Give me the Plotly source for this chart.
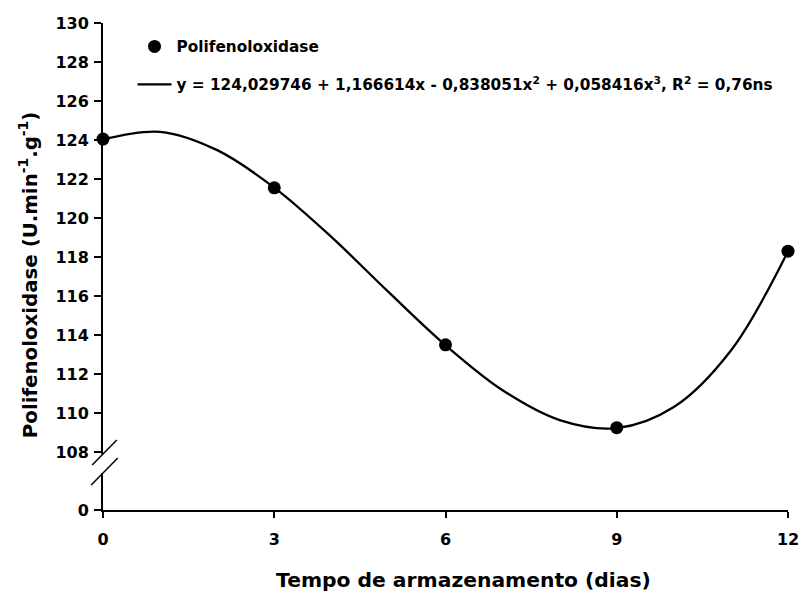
import plotly.graph_objects as go

# Observed data
dias = [0, 3, 6, 9, 12]
ppo = [124.05, 121.55, 113.5, 109.25, 118.3]

# Fitted cubic curve (integer days)
curva_x = [0, 1, 2, 3, 4, 5, 6, 7, 8, 9, 10, 11, 12]
curva_y = [124.03, 124.42, 123.48, 121.56, 119.03, 116.21, 113.48,
           111.17, 109.64, 109.23, 110.31, 113.21, 118.29]

x_ticks = [0, 3, 6, 9, 12]
y_ticks = [108, 110, 112, 114, 116, 118, 120, 122, 124, 126, 128, 130]
y_break_base = 105.03  # position used for the "0" tick below the axis break

FONT = "DejaVu Sans, Liberation Sans, Arial, sans-serif"

fig = go.Figure()
fig.add_trace(go.Scatter(
    x=dias, y=ppo, mode="markers", name="Polifenoloxidase",
    marker=dict(color="black", size=13), cliponaxis=False,
    legendgroup="a"))
fig.add_trace(go.Scatter(
    x=curva_x, y=curva_y, mode="lines", line_shape="spline",
    line=dict(color="black", width=2.3),
    name="y = 124,029746 + 1,166614x - 0,838051x<sup>2</sup> + 0,058416x<sup>3</sup>, R<sup>2</sup> = 0,76ns",
    legendgroup="b"))

W, H = 811, 591
L, R, T, B = 103, 12, 23, 81

pw, ph = W - L - R, H - T - B
def px(xp):
    return (xp - L) / pw
def py(yp):
    return (H - B - yp) / ph

fig.update_layout(
    width=W, height=H,
    margin=dict(l=L, r=R, t=T, b=B),
    paper_bgcolor="white", plot_bgcolor="white",
    font=dict(family=FONT, size=15, color="black", weight="bold"),
    showlegend=True,
    legend=dict(x=px(133), y=py(30), xanchor="left", yanchor="top",
                bgcolor="rgba(0,0,0,0)", traceorder="grouped",
                itemwidth=34,
                tracegroupgap=15, font=dict(size=15.3, weight="bold")),
    xaxis=dict(range=[0, 12], tickvals=x_ticks, ticks="outside", ticklen=6,
               tickwidth=2, tickcolor="black", showline=True, linewidth=2,
               linecolor="black", showgrid=False, zeroline=False,
               ticklabelstandoff=8,
               tickfont=dict(size=16, weight="bold")),
    yaxis=dict(range=[y_break_base, 130], tickvals=[y_break_base] + y_ticks,
               ticktext=["0"] + [str(v) for v in y_ticks],
               ticks="outside", ticklen=7, tickwidth=2, tickcolor="black",
               showline=True, linewidth=2, linecolor="black",
               showgrid=False, zeroline=False,
               ticklabelstandoff=2,
               tickfont=dict(size=16, weight="bold")),
    annotations=[
        dict(text="Tempo de armazenamento (dias)", xref="paper", yref="paper",
             x=px(469), y=py(580), xanchor="center", yanchor="middle",
             showarrow=False, font=dict(size=20.3, weight="bold")),
        dict(text="Polifenoloxidase (U.min<sup>-1</sup>.g<sup>-1</sup>)",
             xref="paper", yref="paper", x=px(27), y=py(275),
             xanchor="center", yanchor="middle", textangle=-90,
             showarrow=False, font=dict(size=19.8, weight="bold")),
    ],
)

# axis break: white gap over the y axis line and two slanted strokes
fig.add_shape(type="rect", xref="paper", yref="paper",
              x0=px(99), x1=px(107), y0=py(473), y1=py(454),
              fillcolor="white", line=dict(width=0), layer="above")
fig.add_shape(type="line", xref="paper", yref="paper",
              x0=px(92), y0=py(465), x1=px(117), y1=py(440),
              line=dict(color="black", width=1.5), layer="above")
fig.add_shape(type="line", xref="paper", yref="paper",
              x0=px(91), y0=py(485), x1=px(118), y1=py(458),
              line=dict(color="black", width=1.5), layer="above")

fig.write_html("out.html")
